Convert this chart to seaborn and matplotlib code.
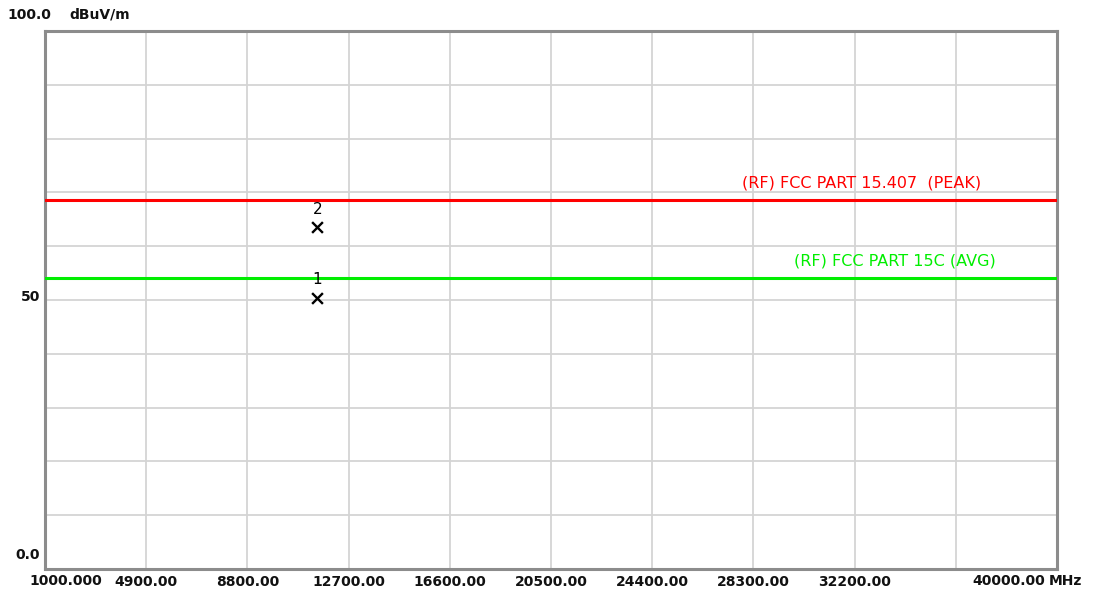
import numpy as np
import pandas as pd
import matplotlib
matplotlib.use("Agg")
import matplotlib.pyplot as plt
import seaborn as sns

# Frequency axis (MHz) and level axis (dBuV/m)
freq_min, freq_max = 1000.0, 40000.0
level_min, level_max = 0.0, 100.0
freq_grid = [1000, 4900, 8800, 12700, 16600, 20500, 24400, 28300, 32200, 36100, 40000]
freq_labels = ["", "4900.00", "8800.00", "12700.00", "16600.00", "20500.00",
               "24400.00", "28300.00", "32200.00", "", ""]

# Limit lines
limit_names = ["(RF) FCC PART 15.407  (PEAK)", "(RF) FCC PART 15C (AVG)"]
limit_levels = [68.5, 54.0]
limit_colors = ["#ff0000", "#00ee00"]
limit_label_freqs = [32450.0, 33750.0]

# Measured marker points
marker_ids = ["1", "2"]
marker_freqs = [11500.0, 11500.0]
marker_levels = [50.4, 63.5]

sns.set_style("white")
plt.rcParams["font.family"] = ["DejaVu Sans"]

fig = plt.figure(figsize=(10.97, 5.94), dpi=100)
ax = fig.add_axes([45 / 1097, 1 - 569 / 594, 1012 / 1097, 538 / 594])

# limit lines
limits = pd.DataFrame({
    "freq": [freq_min, freq_max] * len(limit_names),
    "level": [lv for lv in limit_levels for _ in range(2)],
    "limit": [nm for nm in limit_names for _ in range(2)],
})
sns.lineplot(data=limits, x="freq", y="level", hue="limit",
             palette=dict(zip(limit_names, limit_colors)),
             linewidth=2.2, legend=False, ax=ax, zorder=3)

# markers
pts = pd.DataFrame({"freq": marker_freqs, "level": marker_levels, "id": marker_ids})
sns.scatterplot(data=pts, x="freq", y="level", marker="x", color="black",
                s=60, linewidth=1.7, ax=ax, zorder=4)
for f, lv, mid in zip(marker_freqs, marker_levels, marker_ids):
    ax.text(f, lv + 2.0, mid, ha="center", va="bottom", fontsize=11,
            color="black", zorder=5)

# limit labels
for name, lv, col, fx in zip(limit_names, limit_levels, limit_colors, limit_label_freqs):
    ax.text(fx, lv + 1.8, name, color=col, ha="center", va="bottom", fontsize=11.5)

ax.set_xlim(freq_min, freq_max)
ax.set_ylim(level_min, level_max)
ax.set_xticks(freq_grid)
ax.set_xticklabels(freq_labels)
ax.set_yticks(np.arange(0, 101, 10))
ax.set_yticklabels([])
ax.tick_params(axis="both", length=0, pad=4)
for lbl in ax.get_xticklabels():
    lbl.set_fontweight("bold")
    lbl.set_fontsize(10)
    lbl.set_color("#111111")
ax.grid(True, color="#d4d4d4", linewidth=1.3)
ax.set_xlabel("")
ax.set_ylabel("")
for sp in ax.spines.values():
    sp.set_visible(True)
    sp.set_color("#8c8c8c")
    sp.set_linewidth(2.2)

# axis end labels and units
bold = dict(fontweight="bold", fontsize=10, color="#111111")
fig.text(29 / 1097, 1 - 15 / 594, "100.0", ha="center", va="center", **bold)
fig.text(100 / 1097, 1 - 15 / 594, "dBuV/m", ha="center", va="center", **bold)
fig.text(40 / 1097, 1 - 297 / 594, "50", ha="right", va="center", **bold)
fig.text(40 / 1097, 1 - 555 / 594, "0.0", ha="right", va="center", **bold)
fig.text(66 / 1097, 1 - 581 / 594, "1000.000", ha="center", va="center", **bold)
fig.text(1045 / 1097, 1 - 581 / 594, "40000.00", ha="right", va="center", **bold)
fig.text(1049 / 1097, 1 - 581 / 594, "MHz", ha="left", va="center", **bold)

fig.savefig("out.png", dpi=100)
